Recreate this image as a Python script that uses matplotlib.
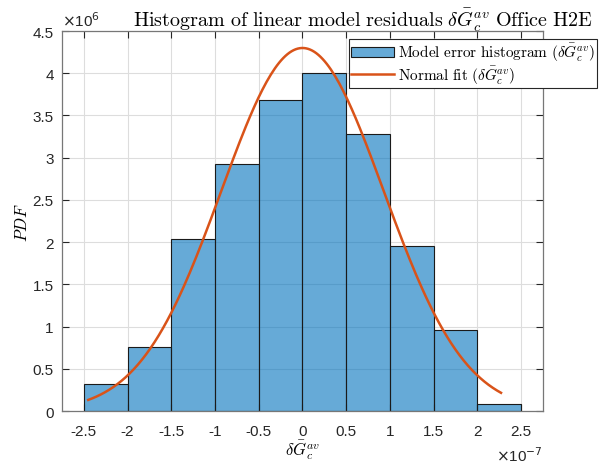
import numpy as np
import matplotlib.pyplot as plt
from matplotlib.ticker import FuncFormatter

plt.rcParams['mathtext.fontset'] = 'cm'
plt.rcParams['font.family'] = ['Liberation Sans', 'DejaVu Sans']

# === Data ===
bin_edges = np.array([-2.5, -2.0, -1.5, -1.0, -0.5, 0.0, 0.5, 1.0, 1.5, 2.0, 2.5]) * 1e-7
pdf_values = np.array([0.32, 0.76, 2.04, 2.92, 3.68, 4.00, 3.28, 1.96, 0.96, 0.08]) * 1e6

# normal fit parameters and range of the residuals
fit_mu = 0.0
fit_sigma = 0.928e-7
resid_min = -2.45e-7
resid_max = 2.27e-7

x_ticks = np.array([-2.5, -2, -1.5, -1, -0.5, 0, 0.5, 1, 1.5, 2, 2.5]) * 1e-7
y_ticks = np.array([0, 0.5, 1, 1.5, 2, 2.5, 3, 3.5, 4, 4.5]) * 1e6

# === Plot ===
fig = plt.figure(figsize=(5.99, 4.64), dpi=100)
ax = fig.add_axes([0.1035, 0.112, 0.803, 0.819])

widths = np.diff(bin_edges)
bars = ax.bar(bin_edges[:-1], pdf_values, width=widths, align='edge',
              facecolor=(0.0, 0.447, 0.741, 0.6), edgecolor='#1a1a1a', linewidth=0.8,
              label=r'$\mathrm{Model\ error\ histogram}\ (\delta\bar{G}_c^{av})$', zorder=2)

xf = np.linspace(resid_min, resid_max, 200)
yf = np.exp(-0.5 * ((xf - fit_mu) / fit_sigma) ** 2) / (fit_sigma * np.sqrt(2 * np.pi))
line, = ax.plot(xf, yf, color='#D95319', lw=1.8,
                label=r'$\mathrm{Normal\ fit}\ (\delta\bar{G}_c^{av})$', zorder=3)

ax.set_xlim(-2.75e-7, 2.75e-7)
ax.set_ylim(0, 4.5e6)
ax.set_xticks(x_ticks)
ax.set_yticks(y_ticks)
ax.xaxis.set_major_formatter(FuncFormatter(lambda v, p: f'{v * 1e7:g}'))
ax.yaxis.set_major_formatter(FuncFormatter(lambda v, p: f'{v / 1e6:g}'))
ax.tick_params(direction='in', length=5, width=0.8, top=True, right=True,
               labelsize=11, colors='#262626', pad=6)
ax.tick_params(axis='x', pad=9)
ax.grid(True, color='#dddddd', lw=0.8, zorder=0)
ax.set_axisbelow(True)
for s in ax.spines.values():
    s.set_color('#777777')
    s.set_linewidth(0.9)

ax.set_title(r'$\mathrm{Histogram\ of\ linear\ model\ residuals}\ \delta\bar{G}_c^{av}\ \mathrm{Office\ H2E}$',
             fontsize=14.5, pad=4, x=0.625)
ax.set_xlabel(r'$\delta\bar{G}_c^{av}$', fontsize=12, labelpad=0)
ax.set_ylabel(r'$PDF$', fontsize=12, labelpad=2)

# axis multipliers
ax.text(0.0, 1.005, r'$\times$10$^{6}$', transform=ax.transAxes, fontsize=11,
        ha='left', va='bottom', color='#262626', math_fontfamily='dejavusans')
ax.text(1.0, -0.09, r'$\times$10$^{-7}$', transform=ax.transAxes, fontsize=11,
        ha='right', va='top', color='#262626', math_fontfamily='dejavusans')

leg = fig.legend(handles=[bars, line], loc='upper right', bbox_to_anchor=(0.9967, 0.9138),
                 fontsize=11, fancybox=False, edgecolor='#262626', framealpha=1,
                 borderpad=0.12, handlelength=2.8, handletextpad=0.3, labelspacing=0.0,
                 borderaxespad=0)
leg.get_frame().set_linewidth(0.8)

fig.savefig('out.png', dpi=100, facecolor='white')
